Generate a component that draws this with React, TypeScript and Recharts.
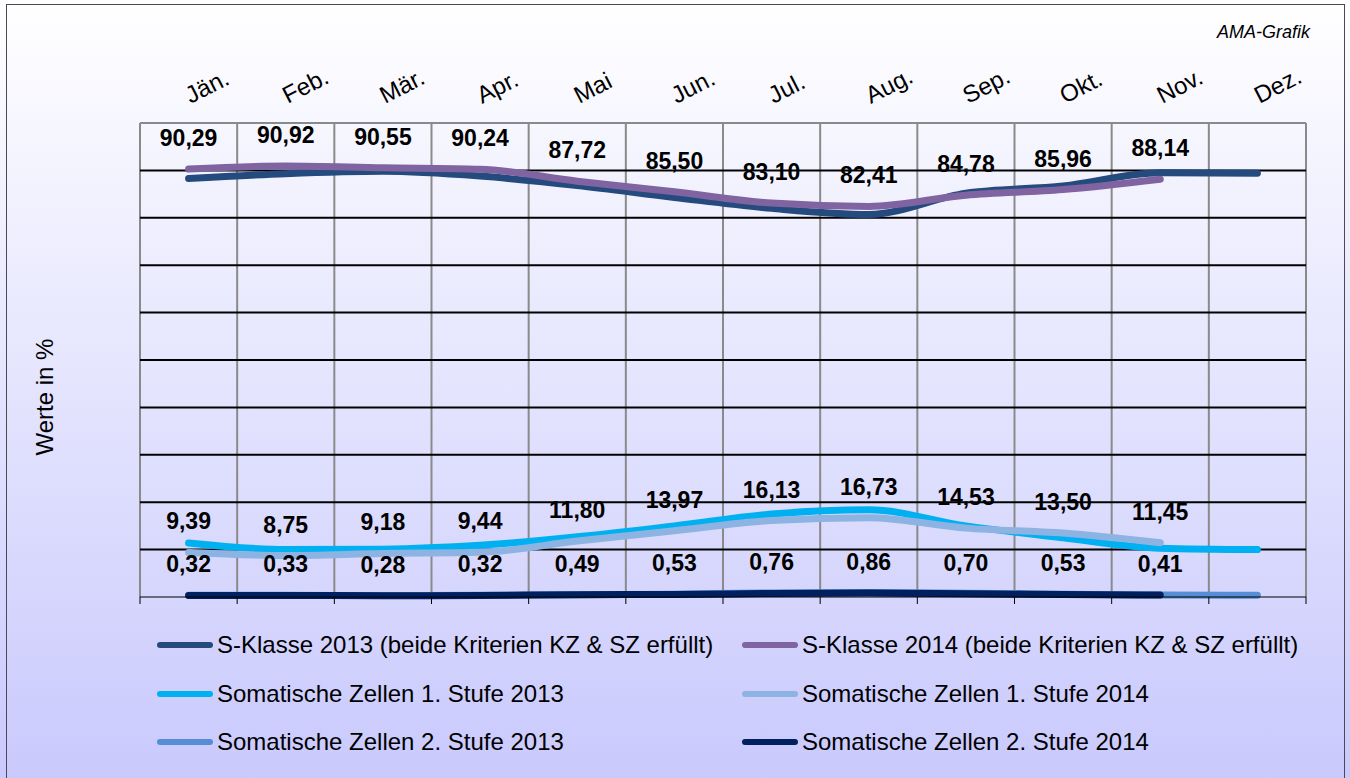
import { CartesianGrid, LabelList, Line, LineChart, XAxis, YAxis } from "recharts";

const months = ["Jän.", "Feb.", "Mär.", "Apr.", "Mai", "Jun.", "Jul.", "Aug.", "Sep.", "Okt.", "Nov.", "Dez."];

const sKlasse2013 = [88.3, 89.3, 89.8, 88.8, 86.8, 84.3, 82.0, 80.7, 85.2, 86.7, 89.5, 89.4];
const sKlasse2014 = [90.29, 90.92, 90.55, 90.24, 87.72, 85.5, 83.1, 82.41, 84.78, 85.96, 88.14, null];
const zellen1_2013 = [11.4, 10.0, 10.1, 10.9, 12.7, 15.0, 17.5, 18.4, 15.0, 12.5, 10.3, 10.0];
const zellen1_2014 = [9.39, 8.75, 9.18, 9.44, 11.8, 13.97, 16.13, 16.73, 14.53, 13.5, 11.45, null];
const zellen2_2013 = [0.35, 0.35, 0.3, 0.35, 0.45, 0.6, 0.85, 0.95, 0.8, 0.6, 0.4, 0.35];
const zellen2_2014 = [0.32, 0.33, 0.28, 0.32, 0.49, 0.53, 0.76, 0.86, 0.7, 0.53, 0.41, null];

const gridValues = [10, 20, 30, 40, 50, 60, 70, 80, 90];

const series = [
  { key: "s2013", name: "S-Klasse 2013 (beide Kriterien KZ & SZ erfüllt)", color: "#254a7e", labels: false },
  { key: "s2014", name: "S-Klasse 2014 (beide Kriterien KZ & SZ erfüllt)", color: "#8064a2", labels: true },
  { key: "z1_2013", name: "Somatische Zellen 1. Stufe 2013", color: "#00b0f0", labels: false },
  { key: "z1_2014", name: "Somatische Zellen 1. Stufe 2014", color: "#8db3e2", labels: true },
  { key: "z2_2013", name: "Somatische Zellen 2. Stufe 2013", color: "#558ed5", labels: false },
  { key: "z2_2014", name: "Somatische Zellen 2. Stufe 2014", color: "#002060", labels: true },
];

const data = months.map((m, i) => ({
  month: m,
  s2013: sKlasse2013[i],
  s2014: sKlasse2014[i],
  z1_2013: zellen1_2013[i],
  z1_2014: zellen1_2014[i],
  z2_2013: zellen2_2013[i],
  z2_2014: zellen2_2014[i],
}));

const W = 1350;
const H = 778;
const margin = { top: 83, right: 44, bottom: 171, left: 140 };
const plotW = W - margin.left - margin.right;
const band = plotW / months.length;
const pad = { left: band / 2, right: band / 2 };
const font = '"Liberation Sans", Arial, sans-serif';

const MonthTick = (props: any) => {
  const { x, y, payload } = props;
  const tx = x + 2;
  const ty = y + 2;
  return (
    <text x={tx} y={ty} transform={`rotate(-27, ${tx}, ${ty})`} textAnchor="start" fontSize={24} fontFamily={font} fill="#000">
      {payload.value}
    </text>
  );
};

const BottomTick = (props: any) => {
  const { x, y, index } = props;
  const top = y - 8;
  return (
    <g>
      <line x1={x - band / 2} x2={x - band / 2} y1={top} y2={top + 7} stroke="#000" strokeWidth={1} />
      {index === months.length - 1 && (
        <line x1={x + band / 2} x2={x + band / 2} y1={top} y2={top + 7} stroke="#000" strokeWidth={1} />
      )}
    </g>
  );
};

const ValueLabel = (props: any) => {
  const { x, y, value } = props;
  if (value == null) return null;
  return (
    <text x={x} y={y - 31} textAnchor="middle" dominantBaseline="central" fontSize={23} fontWeight="bold" fontFamily={font} fill="#000">
      {Number(value).toFixed(2).replace(".", ",")}
    </text>
  );
};

export default function App() {
  return (
    <div
      style={{
        position: "absolute",
        left: 0,
        top: 0,
        width: W,
        height: H,
        overflow: "hidden",
        background: "linear-gradient(to bottom, #ffffff 0%, #c9c9fd 100%)",
        fontFamily: font,
      }}
    >
      <div style={{ position: "absolute", left: 6, top: 4, width: 1337, height: 800, border: "1px solid #4a4a55" }} />
      <div style={{ position: "absolute", right: 40, top: 22, fontSize: 18, fontStyle: "italic", color: "#000" }}>AMA-Grafik</div>
      <div
        style={{
          position: "absolute",
          left: 45,
          top: 397,
          transform: "translate(-50%, -50%) rotate(-90deg)",
          fontSize: 24,
          whiteSpace: "nowrap",
          color: "#000",
        }}
      >
        Werte in %
      </div>
      <LineChart width={W} height={H} data={data} margin={margin} style={{ position: "absolute", left: 0, top: 0 }}>
        <CartesianGrid
          stroke="#8a8a8a"
          strokeWidth={2}
          fill="none"
          horizontalCoordinatesGenerator={({ offset }: any) => [offset.top]}
          verticalCoordinatesGenerator={({ offset }: any) =>
            Array.from({ length: months.length + 1 }, (_, i) => offset.left + (i * offset.width) / months.length)
          }
        />
        <CartesianGrid
          stroke="#000"
          strokeWidth={2}
          vertical={false}
          horizontalCoordinatesGenerator={({ offset }: any) =>
            gridValues.map((v) => offset.top + offset.height * (1 - v / 100))
          }
        />
        <XAxis
          xAxisId="top"
          dataKey="month"
          orientation="top"
          height={40}
          padding={pad}
          axisLine={false}
          tickLine={false}
          tickSize={0}
          tickMargin={21}
          interval={0}
          tick={<MonthTick />}
        />
        <XAxis
          xAxisId="bottom"
          dataKey="month"
          orientation="bottom"
          height={10}
          padding={pad}
          axisLine={{ stroke: "#000", strokeWidth: 1 }}
          tickLine={false}
          tickSize={0}
          tickMargin={8}
          interval={0}
          tick={<BottomTick />}
        />
        <YAxis hide domain={[0, 100]} ticks={[0, 10, 20, 30, 40, 50, 60, 70, 80, 90, 100]} />
        {series.map((s) => (
          <Line
            key={s.key}
            xAxisId="top"
            type="monotone"
            dataKey={s.key}
            name={s.name}
            stroke={s.color}
            strokeWidth={7}
            strokeLinecap="round"
            dot={false}
            activeDot={false}
            isAnimationActive={false}
          >
            {s.labels && <LabelList dataKey={s.key} content={<ValueLabel />} />}
          </Line>
        ))}
      </LineChart>
      {series.map((s, i) => {
        const col = i % 2;
        const row = Math.floor(i / 2);
        return (
          <div
            key={s.key}
            style={{
              position: "absolute",
              left: col === 0 ? 157 : 742,
              top: 645 + row * 48.5,
              transform: "translateY(-50%)",
              display: "flex",
              alignItems: "center",
              fontSize: 24,
              color: "#000",
              whiteSpace: "nowrap",
            }}
          >
            <span style={{ display: "inline-block", width: 56, height: 6, borderRadius: 3, background: s.color, marginRight: 4 }} />
            {s.name}
          </div>
        );
      })}
    </div>
  );
}
